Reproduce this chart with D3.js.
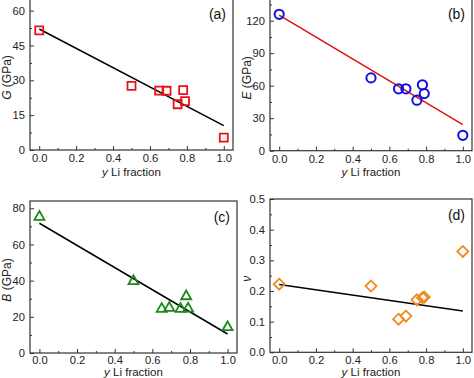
<!DOCTYPE html>
<html>
<head>
<meta charset="utf-8">
<script src="https://cdn.jsdelivr.net/npm/d3@7"></script>
<style>
  body { margin: 0; background: #fff; }
  svg { display: block; font-family: "Liberation Sans", Arial, sans-serif; }
</style>
</head>
<body>
<div id="chart"></div>
<script>
var width = 474, height = 378;

// Li fraction values (shared by all four panels)
var xFrac = [0.0, 0.5, 0.65, 0.69, 0.75, 0.78, 0.79, 1.0];
var shearG = [51.5, 27.6, 25.6, 25.5, 19.7, 25.8, 21.0, 5.3];
var youngE = [125.9, 67.2, 57.1, 57.1, 46.6, 60.8, 52.7, 14.2];
var bulkB = [75.6, 40.0, 24.7, 25.3, 24.7, 31.7, 24.9, 14.6];
var poisson = [0.222, 0.216, 0.108, 0.118, 0.171, 0.178, 0.180, 0.329];
// linear fits, value at x = 0 and x = 1
var fitG = [52.1, 10.5];
var fitE = [125.2, 24.1];
var fitB = [71.7, 10.5];
var fitNu = [0.221, 0.135];
var xTicks = [0, 0.2, 0.4, 0.6, 0.8, 1.0];

var svg = d3.select("#chart").append("svg")
  .attr("width", width).attr("height", height)
  .style("background-color", "white");

var panels = [
  {tag: "(a)", sym: "G", vals: shearG, fit: fitG, ymax: 65, yticks: [0, 15, 30, 45, 60], yfmt: d3.format("d"),
   box: [30, -1, 233, 150], color: "#e8101a", line: "#000", marker: "square", xpad: 4, xlab: 26},
  {tag: "(b)", sym: "E", vals: youngE, fit: fitE, ymax: 140, yticks: [0, 30, 60, 90, 120], yfmt: d3.format("d"),
   box: [270, -1, 472, 150.7], color: "#1010e0", line: "#e01010", marker: "circle", xpad: 4, xlab: 25},
  {tag: "(c)", sym: "B", vals: bulkB, fit: fitB, ymax: 84, yticks: [0, 20, 40, 60, 80], yfmt: d3.format("d"),
   box: [30, 201, 237, 353], color: "#1a8a1a", line: "#000", marker: "triangle", xpad: 3, xlab: 23},
  {tag: "(d)", sym: "ν", vals: poisson, fit: fitNu, ymax: 0.5, yticks: [0, 0.1, 0.2, 0.3, 0.4, 0.5], yfmt: d3.format(".1f"),
   box: [270, 199, 472, 352.3], color: "#f08a1c", line: "#000", marker: "diamond", xpad: 3.5, xlab: 23.5}
];

function markerPath(type) {
  if (type == "square") return "M-4,-4H4V4H-4Z";
  if (type == "triangle") return "M0,-5.2L5,3.6H-5Z";
  if (type == "diamond") return "M0,-5.5L5.5,0L0,5.5L-5.5,0Z";
  return null;
}

panels.forEach(function (p) {
  var x0 = p.box[0], y0 = p.box[1], x1 = p.box[2], y1 = p.box[3];
  var x = d3.scaleLinear().domain([-0.05, 1.05]).range([x0, x1]);
  var y = d3.scaleLinear().domain([0, p.ymax]).range([y1, y0]);
  var g = svg.append("g");

  // minor ticks
  var xMinor = d3.range(-0.0, 1.01, 0.1).filter(function (v) { return Math.round(v * 10) % 2 == 1; });
  var step = p.yticks[1] - p.yticks[0];
  var yMinor = p.yticks.map(function (v) { return v + step / 2; }).filter(function (v) { return v < p.ymax; });

  g.append("g").attr("transform", "translate(0," + y1 + ")")
    .call(d3.axisBottom(x).tickValues(xMinor).tickSizeInner(-2).tickSizeOuter(0).tickFormat(""));
  g.append("g").attr("transform", "translate(" + x0 + ",0)")
    .call(d3.axisLeft(y).tickValues(yMinor).tickSizeInner(-2).tickSizeOuter(0).tickFormat(""));

  g.append("g").attr("transform", "translate(0," + y1 + ")")
    .call(d3.axisBottom(x).tickValues(xTicks).tickSizeInner(-4).tickSizeOuter(0).tickPadding(p.xpad)
      .tickFormat(d3.format(".1f")));
  g.append("g").attr("transform", "translate(" + x0 + ",0)")
    .call(d3.axisLeft(y).tickValues(p.yticks).tickSizeInner(-4).tickSizeOuter(0).tickPadding(5)
      .tickFormat(p.yfmt));
  g.selectAll(".domain").remove();
  g.selectAll(".tick line").attr("stroke", "#333");
  g.selectAll(".tick text").attr("font-size", 11.2).attr("fill", "#222")
    .attr("font-family", "Liberation Sans, Arial, sans-serif");

  // frame
  g.append("rect").attr("x", x0).attr("y", y0).attr("width", x1 - x0).attr("height", y1 - y0)
    .attr("fill", "none").attr("stroke", "#333").attr("stroke-width", 1.2);

  // fit line
  g.append("line")
    .attr("x1", x(0)).attr("y1", y(p.fit[0]))
    .attr("x2", x(1)).attr("y2", y(p.fit[1]))
    .attr("stroke", p.line).attr("stroke-width", 1.5);

  // markers
  var pts = xFrac.map(function (v, i) { return {x: v, y: p.vals[i]}; });
  if (p.marker == "circle") {
    g.selectAll(".pt").data(pts).join("circle")
      .attr("cx", function (d) { return x(d.x); })
      .attr("cy", function (d) { return y(d.y); })
      .attr("r", 4.6)
      .attr("fill", "none").attr("stroke", p.color).attr("stroke-width", 2);
  } else {
    g.selectAll(".pt").data(pts).join("path")
      .attr("d", markerPath(p.marker))
      .attr("transform", function (d) { return "translate(" + x(d.x) + "," + y(d.y) + ")"; })
      .attr("fill", "none").attr("stroke", p.color).attr("stroke-width", 1.8);
  }

  // panel tag
  g.append("text").attr("x", x1 - 7).attr("y", y0 + (y0 < 0 ? 20 : 21))
    .attr("text-anchor", "end").attr("font-size", 14).attr("fill", "#111").text(p.tag);

  // x label
  var xl = g.append("text").attr("x", (x0 + x1) / 2).attr("y", y1 + p.xlab)
    .attr("text-anchor", "middle").attr("font-size", 11.5).attr("fill", "#222");
  xl.append("tspan").attr("font-style", "italic").text("y");
  xl.append("tspan").text(" Li fraction");

  // y label
  var ycx = x0 - 19, ycy = (y0 + y1) / 2 + 3;
  var yl = g.append("text").attr("transform", "translate(" + ycx + "," + ycy + ") rotate(-90)")
    .attr("text-anchor", "middle").attr("font-size", 12).attr("fill", "#222");
  yl.append("tspan").attr("font-style", "italic").text(p.sym);
  if (p.sym != "ν") yl.append("tspan").text(" (GPa)");
});
</script>
</body>
</html>
